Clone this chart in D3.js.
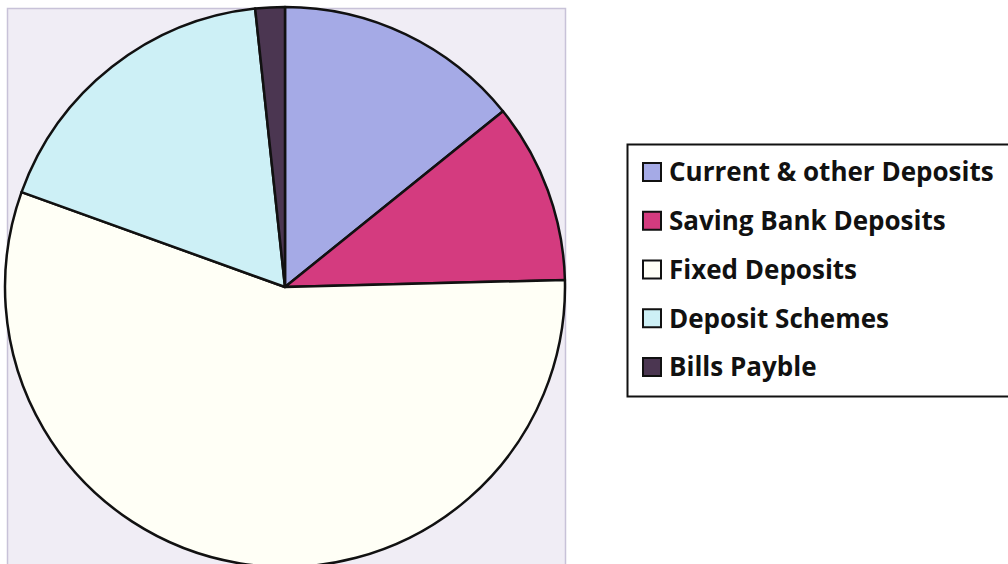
<!DOCTYPE html>
<html>
<head>
<meta charset="utf-8">
<script src="https://cdn.jsdelivr.net/npm/d3@7"></script>
<style>
  body { margin: 0; background: #fff; }
</style>
</head>
<body>
<div id="chart"></div>
<script>
const categories = ["Current & other Deposits", "Saving Bank Deposits", "Fixed Deposits", "Deposit Schemes", "Bills Payble"];
const shares = [14.2, 10.4, 55.9, 17.8, 1.7];
const colors = ["#a5aae6", "#d43b7f", "#fffff6", "#cdf0f6", "#4b3651"];

const width = 1008;
const height = 564;
const cx = 285, cy = 287, radius = 280;

const svg = d3.select("#chart")
  .append("svg")
  .attr("width", width)
  .attr("height", height);

// plot area
svg.append("rect")
  .attr("x", 7.5)
  .attr("y", 8.5)
  .attr("width", 558)
  .attr("height", 570)
  .attr("fill", "#f0edf5")
  .attr("stroke", "#c8c2d8")
  .attr("stroke-width", 1.5);

const data = categories.map((c, i) => ({ category: c, value: shares[i], color: colors[i] }));

const pie = d3.pie().sort(null).value(d => d.value);
const arc = d3.arc().innerRadius(0).outerRadius(radius);

const g = svg.append("g").attr("transform", `translate(${cx}, ${cy})`);

g.selectAll("path")
  .data(pie(data))
  .join("path")
  .attr("d", arc)
  .attr("fill", d => d.data.color)
  .attr("stroke", "#111")
  .attr("stroke-width", 2.5)
  .attr("stroke-linejoin", "round");

// legend
const legend = svg.append("g");
legend.append("rect")
  .attr("x", 627.5)
  .attr("y", 144.5)
  .attr("width", 400)
  .attr("height", 252)
  .attr("fill", "#fff")
  .attr("stroke", "#111")
  .attr("stroke-width", 2);

const rowY = d3.scalePoint().domain(categories).range([172, 367]);

const items = legend.selectAll("g.item")
  .data(data)
  .join("g")
  .attr("class", "item")
  .attr("transform", d => `translate(0, ${rowY(d.category)})`);

items.append("rect")
  .attr("x", 643)
  .attr("y", -9)
  .attr("width", 18)
  .attr("height", 18)
  .attr("fill", d => d.color)
  .attr("stroke", "#111")
  .attr("stroke-width", 2);

items.append("text")
  .attr("x", 669)
  .attr("y", 0)
  .attr("dy", "0.36em")
  .attr("font-family", "'Open Sans', sans-serif")
  .attr("font-weight", "bold")
  .attr("font-size", "26px")
  .attr("fill", "#111")
  .text(d => d.category);
</script>
</body>
</html>
